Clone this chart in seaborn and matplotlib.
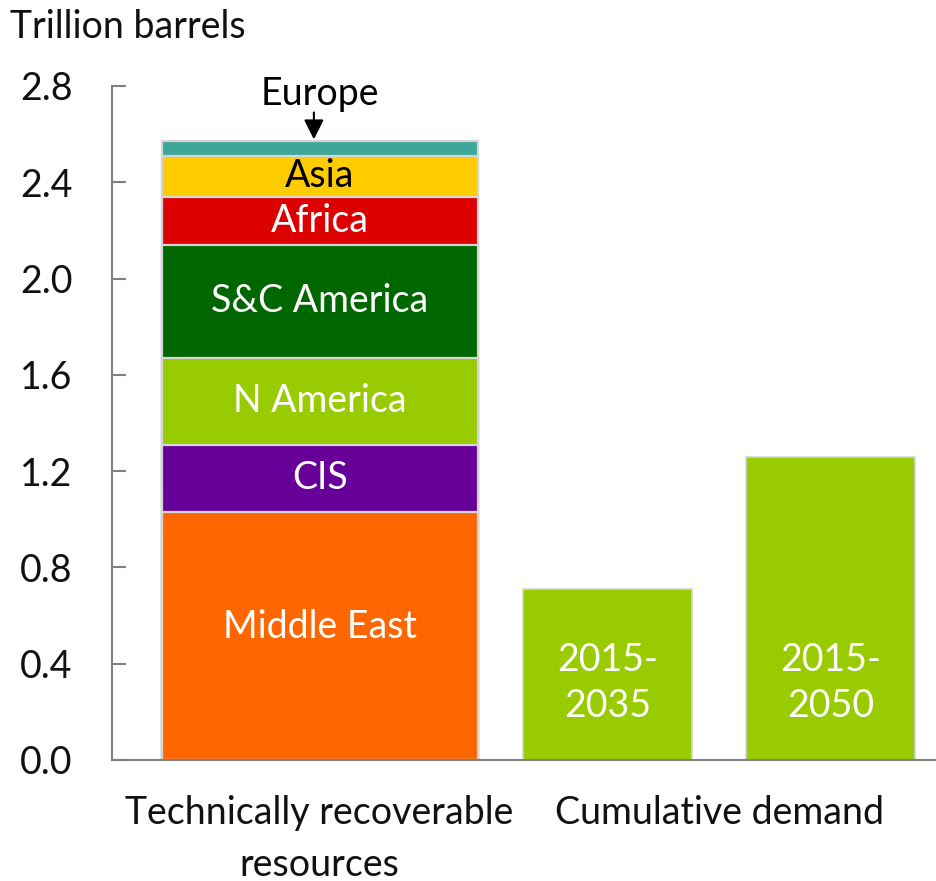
import numpy as np
import pandas as pd
import matplotlib
matplotlib.use("Agg")
import matplotlib.pyplot as plt
import seaborn as sns

# ---------------- data ----------------
regions = ["Middle East", "CIS", "N America", "S&C America", "Africa", "Asia", "Europe"]
resources = [1.03, 0.28, 0.36, 0.47, 0.20, 0.17, 0.06]   # trillion barrels
region_colors = ["#FF6600", "#660099", "#99CC00", "#006600", "#DD0000", "#FFCC00", "#3FA69A"]
region_text_colors = ["white", "white", "white", "white", "white", "black", None]

demand_labels = ["2015-\n2035", "2015-\n2050"]
demand_values = [0.71, 1.26]
demand_color = "#99CC00"

category_labels = ["Technically recoverable\nresources", "Cumulative demand"]
y_ticks = [0.0, 0.4, 0.8, 1.2, 1.6, 2.0, 2.4, 2.8]
y_label = "Trillion barrels"

# ---------------- layout ----------------
STACK_X = 0.0
STACK_W = 1.097
DEMAND_X = [1.0, 1.774]
DEMAND_W = 0.585
XLIM = (-0.722, 2.140)
FS = 27
FONT = ["Lato", "DejaVu Sans"]

sns.set_style("white")
plt.rcParams["font.family"] = FONT

fig = plt.figure(figsize=(9.36, 8.81), dpi=100)
ax = fig.add_axes([111.7 / 936, 121 / 881, (936 - 111.7) / 936, 674 / 881])

# stacked bar: draw cumulative totals, tallest first
cum = np.cumsum(resources)
df_stack = pd.DataFrame({"x": [STACK_X] * len(regions), "cum": cum, "region": regions})
sns.barplot(data=df_stack, x="x", y="cum", hue="region", hue_order=regions[::-1],
            palette=dict(zip(regions, region_colors)), dodge=False, native_scale=True,
            width=STACK_W, saturation=1, errorbar=None, legend=False,
            edgecolor="#d4d4d4", linewidth=1.6, ax=ax)

# demand bars
for xpos, val in zip(DEMAND_X, demand_values):
    sns.barplot(x=[xpos], y=[val], native_scale=True, width=DEMAND_W, color=demand_color,
                saturation=1, errorbar=None, edgecolor="#d4d4d4", linewidth=1.2, ax=ax)

# segment labels
bottoms = cum - np.array(resources)
for name, val, bot, tc in zip(regions, resources, bottoms, region_text_colors):
    if tc is None:
        continue
    yc = bot + val / 2
    if name == "Middle East":
        yc = bot + val * 0.535
    ax.text(STACK_X, yc, name, ha="center", va="center", color=tc, fontsize=FS)

# Europe callout
ax.text(STACK_X, 2.765, "Europe", ha="center", va="center", color="black", fontsize=FS)
ax.annotate("", xy=(STACK_X - 0.02, cum[-1] + 0.008), xytext=(STACK_X - 0.02, 2.69),
            arrowprops=dict(arrowstyle="-|>", color="black", lw=1.5, mutation_scale=30,
                            shrinkA=0, shrinkB=0))

# demand bar labels
for xpos, lab in zip(DEMAND_X, demand_labels):
    ax.text(xpos, 0.32, lab, ha="center", va="center", color="white", fontsize=FS,
            linespacing=1.36)

# axes styling
ax.set_xlim(*XLIM)
ax.set_ylim(0, 2.8)
ax.set_yticks(y_ticks)
ax.set_yticklabels([f"{t:.1f}" for t in y_ticks], fontsize=FS, color="#111111")
ax.set_xticks([STACK_X, (DEMAND_X[0] + DEMAND_X[1]) / 2])
ax.set_xticklabels(category_labels, fontsize=FS, color="#111111", linespacing=1.55)
ax.tick_params(axis="x", length=0, pad=25)
ax.tick_params(axis="y", left=True, direction="in", length=10, width=1.5, color="#808080",
               pad=28)
ax.set_xlabel("")
ax.set_ylabel("")
for s in ["top", "right"]:
    ax.spines[s].set_visible(False)
for s in ["left", "bottom"]:
    ax.spines[s].set_color("#808080")
    ax.spines[s].set_linewidth(1.5)

fig.text(10 / 936, 1 - 27 / 881, y_label, ha="left", va="center", fontsize=FS, color="#111111")

fig.savefig("out.png", dpi=100)
